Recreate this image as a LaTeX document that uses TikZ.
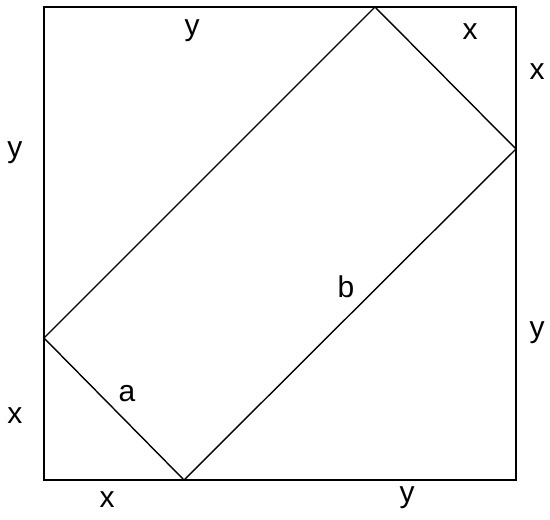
\documentclass[tikz,border=0pt]{standalone}
\usepackage{fontspec}
\setmainfont{Liberation Sans}
\newcommand{\lblfont}{\fontsize{30pt}{34pt}\selectfont}
\begin{document}
\begin{tikzpicture}[x=1pt,y=-1pt,
  lbl/.style={inner sep=0pt},
  outer/.style={line width=2.2pt, line join=miter},
  inner/.style={line width=1.4pt, line join=miter}]
\useasboundingbox (0,0) rectangle (550,520);
\coordinate (TL) at (44,7);
\coordinate (TR) at (516,7);
\coordinate (BR) at (516,480);
\coordinate (BL) at (44,480);
\coordinate (P1) at (44,338);
\coordinate (P2) at (184,480);
\coordinate (P3) at (516,149);
\coordinate (P4) at (375,7);
\draw[outer] (TL) -- (TR) -- (BR) -- (BL) -- cycle;
\draw[inner] (P1) -- (P2) -- (P3) -- (P4) -- cycle;
\node[lbl] (ly1) at (192,31) {\lblfont y};
\node[lbl] (lx1) at (470,32) {\lblfont x};
\node[lbl] (lx2) at (537,72) {\lblfont x};
\node[lbl] (ly2) at (15,153) {\lblfont y};
\node[lbl] (lb) at (346,287) {\lblfont b};
\node[lbl] (ly3) at (537,333) {\lblfont y};
\node[lbl] (la) at (127,394) {\lblfont a};
\node[lbl] (lx3) at (15,416) {\lblfont x};
\node[lbl] (lx4) at (107,500) {\lblfont x};
\node[lbl] (ly4) at (407,498) {\lblfont y};
\end{tikzpicture}
\end{document}
